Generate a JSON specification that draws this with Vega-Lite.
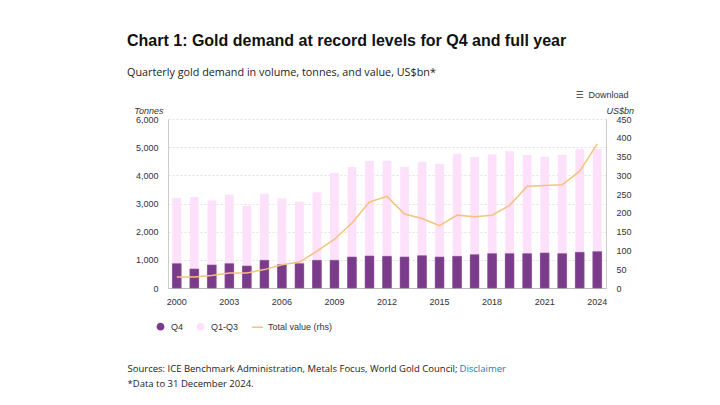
{
  "$schema": "https://vega.github.io/schema/vega-lite/v6.json",
  "autosize": "none",
  "width": 438,
  "height": 169,
  "padding": {"left": 168, "top": 119, "right": 114, "bottom": 117},
  "background": "white",
  "config": {"view": {"stroke": null}},
  "title": {
    "text": "Chart 1: Gold demand at record levels for Q4 and full year",
    "subtitle": "Quarterly gold demand in volume, tonnes, and value, US$bn*",
    "anchor": "start",
    "frame": "group",
    "dx": -41,
    "font": "Liberation Sans",
    "fontSize": 16,
    "fontWeight": "bold",
    "color": "#111111",
    "subtitleFont": "Open Sans",
    "subtitleFontSize": 10.8,
    "subtitleColor": "#222222",
    "subtitlePadding": 18,
    "offset": 12
  },
  "datasets": {
    "bars": [
      {"year": 2000, "series": "Q4", "tonnes": 864}, {"year": 2000, "series": "Q1-Q3", "tonnes": 2331},
      {"year": 2001, "series": "Q4", "tonnes": 675}, {"year": 2001, "series": "Q1-Q3", "tonnes": 2555},
      {"year": 2002, "series": "Q4", "tonnes": 817}, {"year": 2002, "series": "Q1-Q3", "tonnes": 2295},
      {"year": 2003, "series": "Q4", "tonnes": 864}, {"year": 2003, "series": "Q1-Q3", "tonnes": 2450},
      {"year": 2004, "series": "Q4", "tonnes": 781}, {"year": 2004, "series": "Q1-Q3", "tonnes": 2142},
      {"year": 2005, "series": "Q4", "tonnes": 982}, {"year": 2005, "series": "Q1-Q3", "tonnes": 2367},
      {"year": 2006, "series": "Q4", "tonnes": 828}, {"year": 2006, "series": "Q1-Q3", "tonnes": 2355},
      {"year": 2007, "series": "Q4", "tonnes": 864}, {"year": 2007, "series": "Q1-Q3", "tonnes": 2201},
      {"year": 2008, "series": "Q4", "tonnes": 982}, {"year": 2008, "series": "Q1-Q3", "tonnes": 2414},
      {"year": 2009, "series": "Q4", "tonnes": 982}, {"year": 2009, "series": "Q1-Q3", "tonnes": 3101},
      {"year": 2010, "series": "Q4", "tonnes": 1100}, {"year": 2010, "series": "Q1-Q3", "tonnes": 3196},
      {"year": 2011, "series": "Q4", "tonnes": 1136}, {"year": 2011, "series": "Q1-Q3", "tonnes": 3373},
      {"year": 2012, "series": "Q4", "tonnes": 1124}, {"year": 2012, "series": "Q1-Q3", "tonnes": 3397},
      {"year": 2013, "series": "Q4", "tonnes": 1100}, {"year": 2013, "series": "Q1-Q3", "tonnes": 3208},
      {"year": 2014, "series": "Q4", "tonnes": 1148}, {"year": 2014, "series": "Q1-Q3", "tonnes": 3337},
      {"year": 2015, "series": "Q4", "tonnes": 1100}, {"year": 2015, "series": "Q1-Q3", "tonnes": 3314},
      {"year": 2016, "series": "Q4", "tonnes": 1124}, {"year": 2016, "series": "Q1-Q3", "tonnes": 3645},
      {"year": 2017, "series": "Q4", "tonnes": 1183}, {"year": 2017, "series": "Q1-Q3", "tonnes": 3468},
      {"year": 2018, "series": "Q4", "tonnes": 1219}, {"year": 2018, "series": "Q1-Q3", "tonnes": 3527},
      {"year": 2019, "series": "Q4", "tonnes": 1219}, {"year": 2019, "series": "Q1-Q3", "tonnes": 3633},
      {"year": 2020, "series": "Q4", "tonnes": 1219}, {"year": 2020, "series": "Q1-Q3", "tonnes": 3503},
      {"year": 2021, "series": "Q4", "tonnes": 1243}, {"year": 2021, "series": "Q1-Q3", "tonnes": 3420},
      {"year": 2022, "series": "Q4", "tonnes": 1219}, {"year": 2022, "series": "Q1-Q3", "tonnes": 3515},
      {"year": 2023, "series": "Q4", "tonnes": 1266}, {"year": 2023, "series": "Q1-Q3", "tonnes": 3657},
      {"year": 2024, "series": "Q4", "tonnes": 1290}, {"year": 2024, "series": "Q1-Q3", "tonnes": 3645}
    ],
    "value": [
      {"year": 2000, "value": 29}, {"year": 2001, "value": 29}, {"year": 2002, "value": 33},
      {"year": 2003, "value": 40}, {"year": 2004, "value": 40}, {"year": 2005, "value": 49},
      {"year": 2006, "value": 62}, {"year": 2007, "value": 69}, {"year": 2008, "value": 98},
      {"year": 2009, "value": 130}, {"year": 2010, "value": 173}, {"year": 2011, "value": 229},
      {"year": 2012, "value": 244}, {"year": 2013, "value": 197}, {"year": 2014, "value": 185},
      {"year": 2015, "value": 166}, {"year": 2016, "value": 194}, {"year": 2017, "value": 190},
      {"year": 2018, "value": 194}, {"year": 2019, "value": 220}, {"year": 2020, "value": 271},
      {"year": 2021, "value": 273}, {"year": 2022, "value": 275}, {"year": 2023, "value": 311},
      {"year": 2024, "value": 384}
    ]
  },
  "layer": [
    {
      "data": {"name": "bars"},
      "mark": {"type": "bar"},
      "encoding": {
        "x": {
          "field": "year", "type": "ordinal",
          "scale": {"paddingInner": 0.5, "paddingOuter": 0.25},
          "axis": {
            "orient": "bottom",
            "values": [2000, 2003, 2006, 2009, 2012, 2015, 2018, 2021, 2024],
            "labelAngle": 0, "labelFont": "Liberation Sans", "labelFontSize": 9, "labelColor": "#333333",
            "labelPadding": 9, "ticks": false, "grid": false, "domainColor": "#bbbbbb",
            "title": ["Sources: ICE Benchmark Administration, Metals Focus, World Gold Council;", "*Data to 31 December 2024."],
            "titleFont": "Open Sans", "titleFontSize": 9.5, "titleFontWeight": "normal", "titleColor": "#222222",
            "titleAlign": "left", "titleBaseline": "top", "titleX": -41, "titleY": 75, "titleLineHeight": 15.5
          }
        },
        "y": {
          "field": "tonnes", "type": "quantitative", "stack": "zero",
          "scale": {"domain": [0, 6000]},
          "axis": {
            "orient": "left",
            "values": [0, 1000, 2000, 3000, 4000, 5000, 6000], "format": ",.0f",
            "labelFont": "Liberation Sans", "labelFontSize": 9, "labelColor": "#333333", "labelPadding": 10,
            "ticks": false, "domainColor": "#cccccc", "gridColor": "#e2e2e2", "gridDash": [2, 2],
            "title": "Tonnes", "titleAngle": 0, "titleAlign": "right", "titleBaseline": "middle",
            "titleX": -5, "titleY": -9, "titleFont": "Liberation Sans", "titleFontStyle": "italic",
            "titleFontWeight": "normal", "titleFontSize": 9, "titleColor": "#333333"
          }
        },
        "color": {
          "field": "series", "type": "nominal",
          "scale": {"domain": ["Q4", "Q1-Q3", "Total value (rhs)"], "range": ["#7b3b8b", "#fde1fb", "#f5c27d"]},
          "legend": {
            "orient": "none", "legendX": -12, "legendY": 203, "direction": "horizontal", "title": null,
            "padding": 0, "labelFont": "Liberation Sans", "labelFontSize": 9, "labelColor": "#333333",
            "labelOffset": 6, "columnPadding": 10, "symbolSize": 40, "symbolType": "circle",
            "encode": {
              "symbols": {
                "update": {
                  "shape": {"signal": "datum.value === 'Total value (rhs)' ? 'stroke' : 'circle'"},
                  "size": {"signal": "datum.value === 'Total value (rhs)' ? 121 : 40"},
                  "fill": {"signal": "datum.value === 'Total value (rhs)' ? 'transparent' : scale('color', datum.value)"},
                  "stroke": {"signal": "datum.value === 'Total value (rhs)' ? '#f5c27d' : 'transparent'"},
                  "strokeWidth": {"value": 1.5}
                }
              }
            }
          }
        },
        "order": {"field": "series", "sort": "descending"}
      }
    },
    {
      "data": {"name": "bars"},
      "transform": [{"filter": "datum.series === 'Q4'"}],
      "mark": {"type": "bar", "fill": "#7b3b8b", "stroke": "#9257a0", "strokeWidth": 0.6},
      "encoding": {
        "x": {
          "field": "year", "type": "ordinal",
          "axis": {
            "orient": "bottom", "labels": false, "ticks": false, "domain": false, "grid": false,
            "title": "Disclaimer", "titleFont": "Open Sans", "titleFontSize": 9.5, "titleFontWeight": "normal",
            "titleColor": "#1a7ab5", "titleAlign": "left", "titleBaseline": "top", "titleX": 291, "titleY": 75
          }
        },
        "y": {"field": "tonnes", "type": "quantitative", "scale": {"domain": [0, 6000]}, "axis": null}
      }
    },
    {
      "data": {"name": "value"},
      "mark": {"type": "line", "strokeWidth": 1.5},
      "encoding": {
        "x": {
          "field": "year", "type": "ordinal",
          "axis": {
            "orient": "top", "labels": false, "ticks": false, "domain": false, "grid": false,
            "title": "☰\u00a0 Download", "titleFont": "Liberation Sans, DejaVu Sans", "titleFontSize": 9,
            "titleFontWeight": "normal", "titleColor": "#333333", "titleAlign": "right", "titleBaseline": "middle",
            "titleX": 460, "titleY": -25
          }
        },
        "y": {
          "field": "value", "type": "quantitative", "scale": {"domain": [0, 450]},
          "axis": {
            "orient": "right", "values": [0, 50, 100, 150, 200, 250, 300, 350, 400, 450],
            "labelFont": "Liberation Sans", "labelFontSize": 9, "labelColor": "#333333", "labelPadding": 10,
            "ticks": false, "grid": false, "domainColor": "#cccccc",
            "title": "US$bn", "titleAngle": 0, "titleAlign": "left", "titleBaseline": "middle",
            "titleX": 0, "titleY": -9, "titleFont": "Liberation Sans", "titleFontStyle": "italic",
            "titleFontWeight": "normal", "titleFontSize": 9, "titleColor": "#333333"
          }
        },
        "color": {"datum": "Total value (rhs)"}
      }
    }
  ],
  "resolve": {"scale": {"y": "independent"}, "axis": {"x": "independent", "y": "independent"}}
}
